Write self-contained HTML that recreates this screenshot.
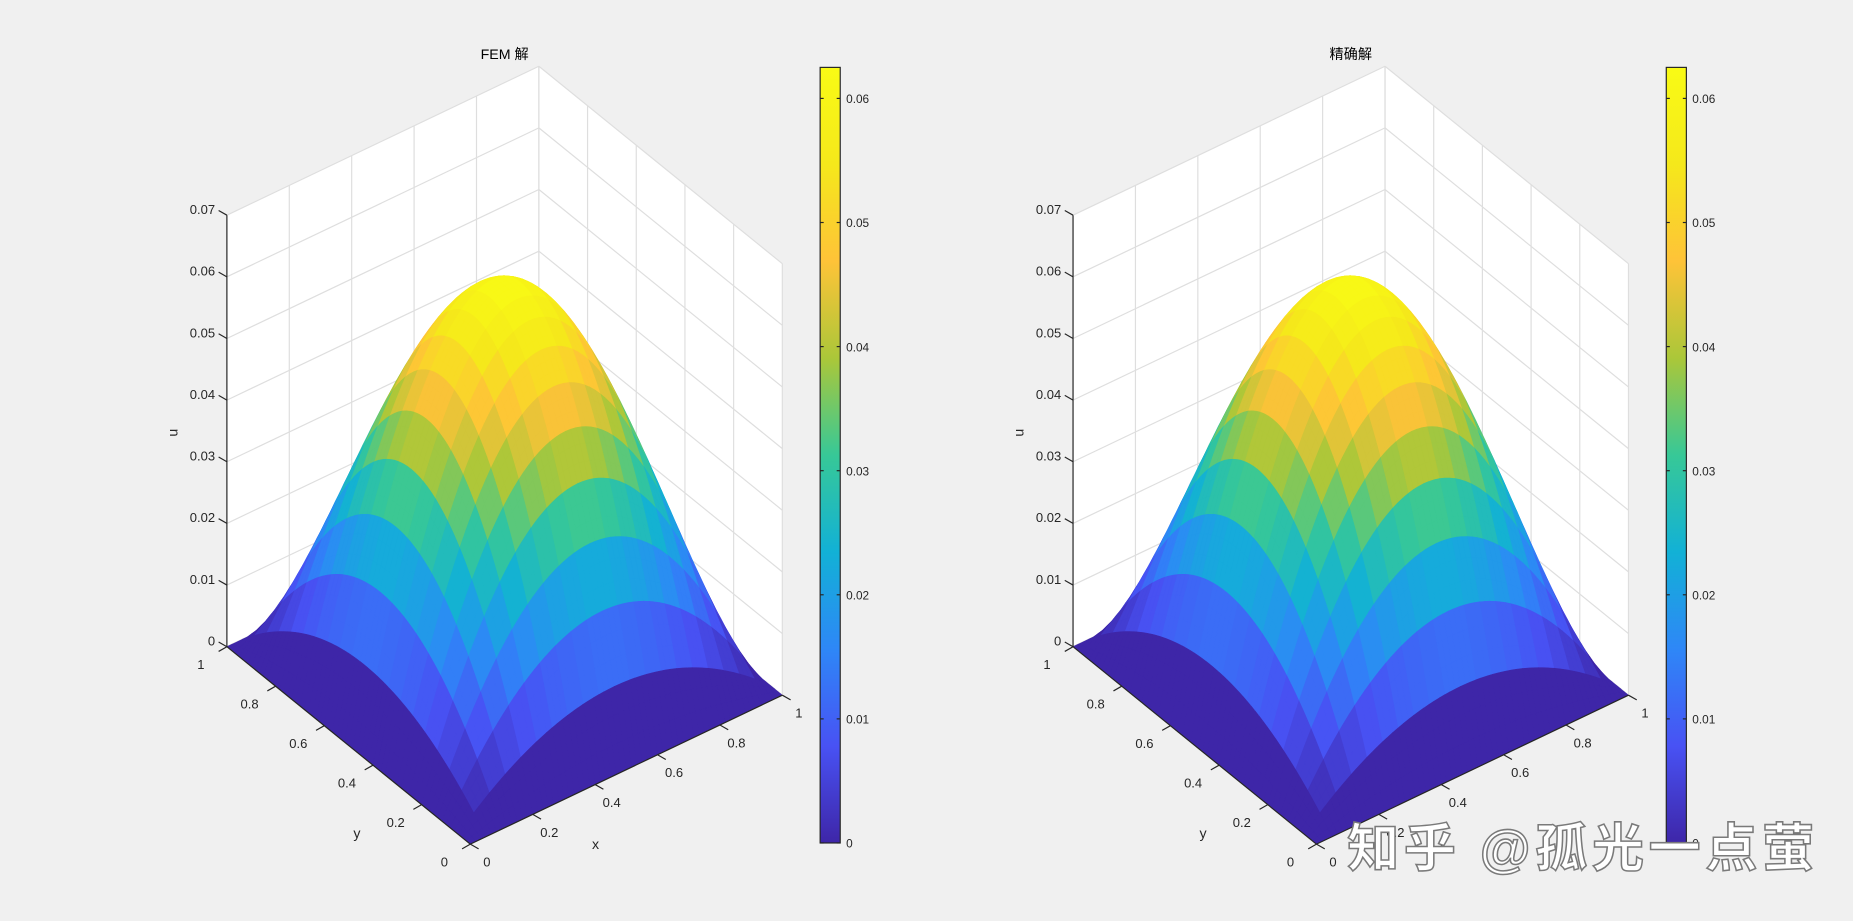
<!DOCTYPE html>
<html><head><meta charset="utf-8"><style>
html,body{margin:0;padding:0;background:#f0f0f0;overflow:hidden}
svg{display:block}
text{font-family:"Liberation Sans","Noto Sans CJK SC",sans-serif;fill:#262626}
</style></head><body>
<svg id="fig" width="1853" height="921" viewBox="0 0 1568 779" preserveAspectRatio="none" xmlns="http://www.w3.org/2000/svg">
<rect width="1568" height="779" fill="#f0f0f0"/>
</svg>
<script>
const xTicks=[0,0.2,0.4,0.6,0.8,1];
const yTicks=[0,0.2,0.4,0.6,0.8,1];
const zTicks=[0,0.01,0.02,0.03,0.04,0.05,0.06,0.07];
const cbTicks=[0,0.01,0.02,0.03,0.04,0.05,0.06];
const meshNodes=[0,0.05,0.1,0.15,0.2,0.25,0.3,0.35,0.4,0.45,0.5,0.55,0.6,0.65,0.7,0.75,0.8,0.85,0.9,0.95,1];
const cmax=0.0625, sub=3;
const panels=[{title:"FEM 解",dx:0,name:"fem"},{title:"精确解",dx:716,name:"exact"}];
const parula=[[0,[62,38,168]],[0.125,[72,82,244]],[0.25,[46,135,247]],[0.375,[18,177,214]],[0.5,[55,200,151]],[0.625,[171,199,57]],[0.75,[254,195,56]],[0.875,[245,232,27]],[1,[249,251,21]]];
function cmap(t){t=Math.max(0,Math.min(1,t));for(let i=1;i<parula.length;i++){if(t<=parula[i][0]){const a=parula[i-1],b=parula[i],f=(t-a[0])/(b[0]-a[0]);return 'rgb('+a[1].map((v,k)=>Math.round(v+(b[1][k]-v)*f)).join(',')+')';}}return 'rgb(249,251,21)';}
function u(x,y){return x*(1-x)*y*(1-y);}
const svg=document.getElementById('fig');const NS='http://www.w3.org/2000/svg';
function el(t,a,p){const e=document.createElementNS(NS,t);for(const k in a)e.setAttribute(k,a[k]);(p||svg).appendChild(e);return e;}
panels.forEach(P=>{
 const g=el('g',{});
 
 
 const O=[398+P.dx,714];
 const pr=(x,y,z)=>[O[0]+x*264-y*206,O[1]-x*126-y*167-z*5214];
 const pts=a=>a.map(p=>p[0].toFixed(2)+','+p[1].toFixed(2)).join(' ');
 const w1=el('polygon',{points:pts([pr(0,1,0),pr(1,1,0),pr(1,1,.07),pr(0,1,.07)]),fill:'#fff'},g);
 
 const w2=el('polygon',{points:pts([pr(1,0,0),pr(1,1,0),pr(1,1,.07),pr(1,0,.07)]),fill:'#fff'},g);
 
 const w3=el('polygon',{points:pts([pr(0,0,0),pr(1,0,0),pr(1,1,0),pr(0,1,0)]),fill:'#fff'},g);
 
 const gl=(a,b)=>{const l=el('line',{x1:a[0],y1:a[1],x2:b[0],y2:b[1],stroke:'#dedede','stroke-width':1},g);};
 zTicks.forEach(z=>{gl(pr(0,1,z),pr(1,1,z));gl(pr(1,1,z),pr(1,0,z));});
 xTicks.forEach(x=>{gl(pr(x,1,0),pr(x,1,.07));gl(pr(x,0,0),pr(x,1,0));});
 yTicks.forEach(y=>{gl(pr(1,y,0),pr(1,y,.07));gl(pr(0,y,0),pr(1,y,0));});
 const n=meshNodes.length-1;const cells=[];
 for(let i=0;i<n;i++)for(let j=0;j<n;j++){
  const cx0=meshNodes[i],cx1=meshNodes[i+1],cy0=meshNodes[j],cy1=meshNodes[j+1];
  const cval=Math.min(u(cx0,cy0),u(cx1,cy0),u(cx0,cy1),u(cx1,cy1));
  const col=cmap(cval/cmax);
  for(let a=0;a<sub;a++)for(let b=0;b<sub;b++){
   const x0=cx0+(cx1-cx0)*a/sub,x1=cx0+(cx1-cx0)*(a+1)/sub,y0=cy0+(cy1-cy0)*b/sub,y1=cy0+(cy1-cy0)*(b+1)/sub;
   cells.push({d:x0+x1+y0+y1,x0,x1,y0,y1,col});
  }}
 cells.sort((a,b)=>b.d-a.d);
 const sg=el('g',{},g);
 cells.forEach(c=>{
  const p=el('polygon',{points:pts([pr(c.x0,c.y0,u(c.x0,c.y0)),pr(c.x1,c.y0,u(c.x1,c.y0)),pr(c.x1,c.y1,u(c.x1,c.y1)),pr(c.x0,c.y1,u(c.x0,c.y1))]),fill:c.col,stroke:c.col,'stroke-width':0.5},sg);
  });
 const al=(a,b,n)=>{const l=el('line',{x1:a[0],y1:a[1],x2:b[0],y2:b[1],stroke:'#262626','stroke-width':1},g);};
 al(pr(0,1,0),pr(0,1,.07),'z-axis-line');al(pr(0,0,0),pr(0,1,0),'y-axis-line');al(pr(0,0,0),pr(1,0,0),'x-axis-line');
 const tx=(s,x,y,anc,n,extra)=>{const t=el('text',Object.assign({x:x,y:y,'font-size':11,'text-anchor':anc},extra||{}),g);t.textContent=s;return t;};
 zTicks.forEach(z=>{const p=pr(0,1,z);al(p,[p[0]-7,p[1]-4],'z-tick');tx(String(z),p[0]-10,p[1]-1,'end','z-tick-label');});
 yTicks.forEach(y=>{const p=pr(0,y,0);al(p,[p[0]-7,p[1]+4],'y-tick');tx(String(y),p[0]-22,p[1]+19,'middle','y-tick-label');});
 xTicks.forEach(x=>{const p=pr(x,0,0);al(p,[p[0]+7,p[1]+4],'x-tick');tx(String(x),p[0]+14,p[1]+19,'middle','x-tick-label');});
 tx('x',504+P.dx,718,'middle','x-axis-title',{'font-size':12});
 tx('y',302+P.dx,709,'middle','y-axis-title',{'font-size':12});
 tx('u',0,0,'middle','z-axis-title',{'font-size':12,transform:'translate('+(150+P.dx)+',366) rotate(-90)'});
 tx(P.title,427+P.dx,50,'middle','plot-title',{'font-size':12,style:'fill:#000'});
 const cx=694+P.dx,top=57,bot=713;
 const defs=el('defs',{},g);const lg=el('linearGradient',{id:'cb'+P.name,x1:0,y1:1,x2:0,y2:0},defs);
 parula.forEach(s=>el('stop',{offset:s[0],'stop-color':cmap(s[0])},lg));
 const cb=el('rect',{x:cx,y:top,width:17,height:bot-top,fill:'url(#cb'+P.name+')',stroke:'#262626','stroke-width':1},g);
 
 cbTicks.forEach(v=>{const y=bot-(v/cmax)*(bot-top);al([cx,y],[cx+3,y],'colorbar-tick');al([cx+14,y],[cx+17,y],'colorbar-tick');tx(String(v),cx+22,y+4,'start','colorbar-tick-label',{'font-size':10});});
});
const wm=el('text',{x:1140,y:733,'font-size':44,'letter-spacing':4,'style':'fill:#ffffff;stroke:#7a7a7a;stroke-width:1.3;font-weight:bold;font-family:"Liberation Sans","Noto Sans CJK SC",sans-serif'});
wm.textContent='知乎 @孤光一点萤';


</script>
</body></html>
